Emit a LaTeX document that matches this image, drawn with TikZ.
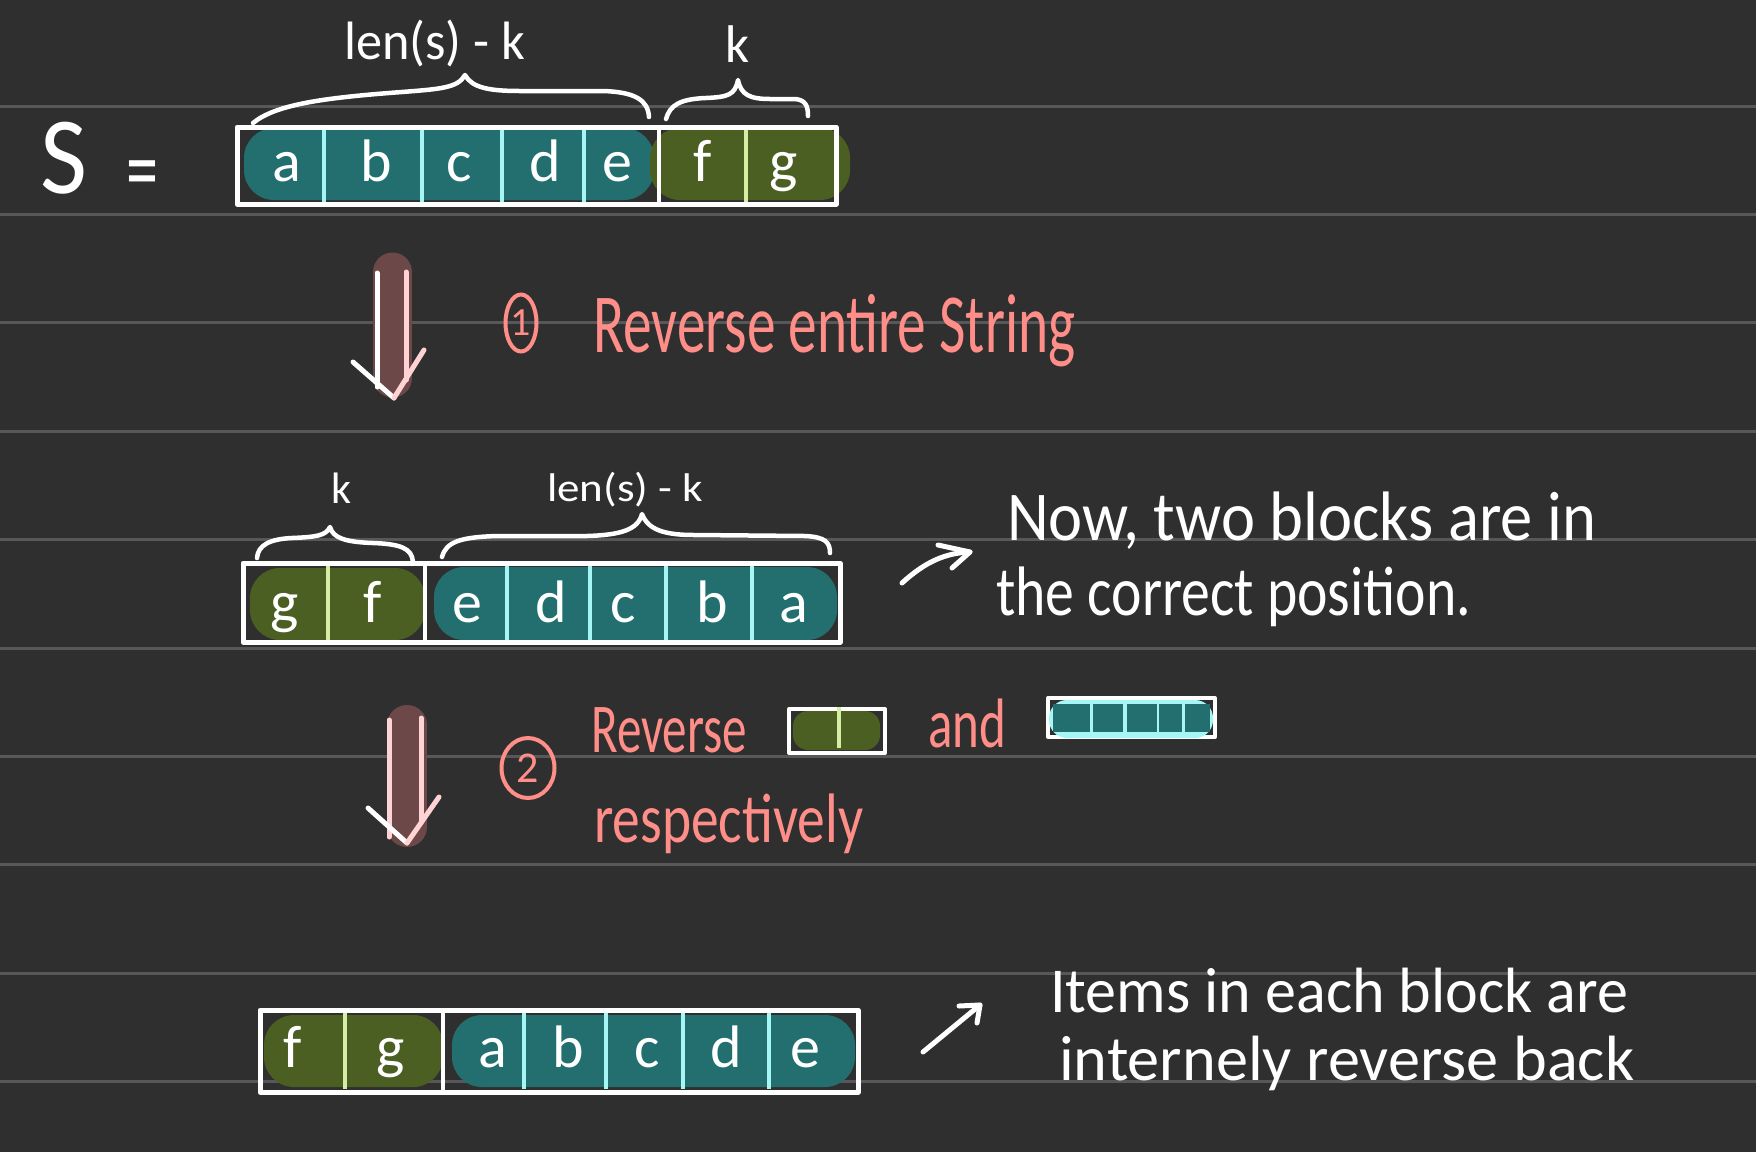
\documentclass[tikz,border=0pt]{standalone}
\usepackage{fontspec}
\usepackage{graphicx}
\setmainfont{Carlito}
\usetikzlibrary{shapes.geometric}
\definecolor{bg}{HTML}{2F2F2F}
\definecolor{ruleline}{HTML}{58585A}
\definecolor{tealfill}{HTML}{236F6F}
\definecolor{cyanline}{HTML}{A6F6F6}
\definecolor{greenfill}{HTML}{4C5F23}
\definecolor{greenline}{HTML}{D6EDA6}
\definecolor{salmon}{HTML}{FF8E89}
\definecolor{pillcol}{HTML}{6C4848}
\definecolor{pinkline}{HTML}{FFD3D3}
\newcommand{\fitw}[2]{\resizebox{#1pt}{\height}{#2}}
\tikzset{
  frame/.style={draw=white, line width=5pt, line join=round},
  cyandiv/.style={draw=cyanline, line width=4pt},
  greendiv/.style={draw=greenline, line width=4pt},
  whitediv/.style={draw=white, line width=4.5pt},
  tblob/.style={fill=tealfill, rounded corners=30pt},
  gblob/.style={fill=greenfill, rounded corners=30pt},
  ltr/.style={text=white, font=\fontsize{60}{60}\selectfont, inner sep=0pt, anchor=base},
  brace/.style={draw=white, line width=4.5pt, line cap=round, line join=round},
  pen/.style={draw=white, line width=5pt, line cap=round, line join=round},
  note/.style={text=white, inner sep=0pt, anchor=base west},
  pinknote/.style={text=salmon, inner sep=0pt, anchor=base west},
  pillbar/.style={draw=pillcol, line width=39pt, line cap=round},
}
\begin{document}
\begin{tikzpicture}[x=1pt,y=-1pt]
\fill[bg] (0,0) rectangle (1756,1152);
\useasboundingbox (0,0) rectangle (1756,1152);
% ruled lines
\foreach \k in {0,...,9} {
  \draw[ruleline, line width=3pt] (0,106+108.4*\k) -- (1756,106+108.4*\k);
}

% ===== Row 1 =====
\node[note, font=\fontsize{110}{110}\selectfont] (S) at (40,193) {\fitw{47}{S}};
\node[text=white, inner sep=0pt, font=\fontsize{95}{95}\selectfont] (eq) at (142,181) {\fitw{32}{=}};
\path[tblob] (244,128) rectangle (654,200);
\path[gblob] (650,128) rectangle (850,200);
\draw[cyandiv] (324,129) -- (324,203) (422,129) -- (422,203) (502,129) -- (502,203) (584,129) -- (584,203);
\draw[greendiv] (746,129) -- (746,203);
\draw[whitediv] (659,128) -- (659,203);
\draw[frame] (237,127) rectangle (836,204);
\foreach \x/\c in {287/a,376/b,459/c,545/d,617/e,703/f,784/g} {
  \node[ltr] (r1\c) at (\x,181) {\c};
}
\draw[brace] (253,123) .. controls (275,105) and (320,98) .. (402,92)
  .. controls (440,89) and (458,88) .. (465,75)
  .. controls (472,88) and (490,91) .. (520,91) -- (603,91)
  .. controls (635,92) and (648,100) .. (649,117);
\draw[brace] (666,119) .. controls (670,105) and (680,99) .. (706,98)
  .. controls (728,97) and (735,95) .. (738,80)
  .. controls (741,95) and (750,99) .. (770,99) -- (795,99)
  .. controls (805,100) and (808,105) .. (808,116);
\node[note, font=\fontsize{54}{54}\selectfont] (len1) at (344,59) {\fitw{181}{len(s) - k}};
\node[text=white, inner sep=0pt, anchor=base, font=\fontsize{53}{53}\selectfont] (k1) at (738,62) {k};

% ===== Arrow 1 =====
\coordinate (a1top) at (392.5,272);
\coordinate (a1bot) at (392.5,378);
\draw[pillbar] (a1top) -- (a1bot);
\coordinate (a1l1) at (377,273); \coordinate (a1l2) at (377,387);
\coordinate (a1r1) at (406,272); \coordinate (a1r2) at (406,380);
\coordinate (a1hl) at (353,362); \coordinate (a1tip) at (394,398); \coordinate (a1hr) at (424,350);
\draw[pen] (a1l1) -- (a1l2);
\draw[pen, draw=pinkline] (a1r1) -- (a1r2);
\draw[pen] (a1hl) -- (a1tip);
\draw[pen, draw=pinkline] (a1tip) -- (a1hr);
\node[ellipse, draw=salmon, line width=4pt, minimum width=31pt, minimum height=57pt, inner sep=0pt, text=salmon, font=\fontsize{40}{40}\selectfont] (c1) at (521,323) {1};
\node[pinknote, font=\fontsize{84}{84}\selectfont] (step1) at (593,352) {\fitw{482}{Reverse entire String}};

% ===== Row 2 =====
\path[gblob] (250,568) rectangle (425,640);
\path[tblob] (434,567) rectangle (837,640);
\draw[greendiv] (328,565) -- (328,641);
\draw[cyandiv] (507,565) -- (507,641) (590,565) -- (590,641) (666,565) -- (666,641) (752,565) -- (752,641);
\draw[whitediv] (425,564) -- (425,641);
\draw[frame] (243,563) rectangle (840,642);
\foreach \x/\c in {285/g,373/f,467/e,551/d,623/c,712/b,794/a} {
  \node[ltr] (r2\c) at (\x,622) {\c};
}
\draw[brace] (257,558) .. controls (258,545) and (270,539) .. (292,538)
  .. controls (315,537) and (326,536) .. (330,527)
  .. controls (333,538) and (345,542) .. (373,543)
  .. controls (400,544) and (412,548) .. (413,562);
\draw[brace] (442,557) .. controls (446,542) and (460,537) .. (498,536) -- (587,536)
  .. controls (620,535) and (638,530) .. (642,514)
  .. controls (648,530) and (665,535) .. (694,535) -- (805,536)
  .. controls (825,537) and (830,542) .. (830,553);
\node[text=white, inner sep=0pt, anchor=base, font=\fontsize{44}{44}\selectfont] (k2) at (341,503) {k};
\node[note, font=\fontsize{40}{40}\selectfont] (len2) at (547,501) {\fitw{156}{len(s) - k}};
\coordinate (n1s) at (902,583); \coordinate (n1e) at (970,552);
\coordinate (n1h1) at (938,545); \coordinate (n1h2) at (952,568);
\draw[pen] (n1s) .. controls (925,562) and (945,553) .. (n1e);
\draw[pen] (n1h1) -- (n1e) -- (n1h2);
\node[note, font=\fontsize{70}{70}\selectfont] (now1) at (1007,540) {\fitw{589}{Now, two blocks are in}};
\node[note, font=\fontsize{70}{70}\selectfont] (now2) at (996,615) {\fitw{475}{the correct position.}};

% ===== Arrow 2 =====
\coordinate (a2top) at (407,725);
\coordinate (a2bot) at (407,827);
\draw[pillbar, line width=40pt] (a2top) -- (a2bot);
\coordinate (a2l1) at (389,720); \coordinate (a2l2) at (389,837);
\coordinate (a2r1) at (421,718); \coordinate (a2r2) at (421,822);
\coordinate (a2hl) at (368,808); \coordinate (a2tip) at (407,843); \coordinate (a2hr) at (439,797);
\draw[pen, draw=pinkline] (a2l1) -- (a2l2);
\draw[pen, draw=pinkline] (a2r1) -- (a2r2);
\draw[pen] (a2hl) -- (a2tip);
\draw[pen, draw=pinkline] (a2tip) -- (a2hr);
\node[ellipse, draw=salmon, line width=4pt, minimum width=53pt, minimum height=60pt, inner sep=0pt, text=salmon, font=\fontsize{44}{44}\selectfont] (c2) at (528,768) {2};
\node[pinknote, font=\fontsize{70}{70}\selectfont] (rev2) at (591,752) {\fitw{156}{Reverse}};
\node[pinknote, font=\fontsize{70}{70}\selectfont] (and2) at (928,747) {\fitw{78}{and}};
\node[pinknote, font=\fontsize{70}{70}\selectfont] (resp2) at (594,842) {\fitw{269}{respectively}};
% small green block
\draw[frame, line width=4pt] (789,709) rectangle (885,753);
\path[fill=greenfill, rounded corners=15pt] (793,711) rectangle (880,750);
\draw[greendiv] (839,707) -- (839,748);
% small teal block
\draw[frame, line width=4pt] (1048,698) rectangle (1215,737);
\path[fill=cyanline, rounded corners=18pt] (1049,700) rectangle (1213,738);
\foreach \a/\b in {1053/1090,1093/1123,1127/1157,1159/1182,1185/1210} {
  \fill[tealfill] (\a,704) rectangle (\b,732);
}

% ===== Row 4 =====
\path[gblob] (264,1015) rectangle (443,1087);
\path[tblob] (452,1015) rectangle (855,1087);
\draw[greendiv] (345,1012) -- (345,1089);
\draw[cyandiv] (524,1012) -- (524,1089) (606,1012) -- (606,1089) (683,1012) -- (683,1089) (769,1012) -- (769,1089);
\draw[whitediv] (443,1011) -- (443,1090);
\draw[frame] (260,1010) rectangle (858,1092);
\foreach \x/\c in {293/f,391/g,493/a,568/b,647/c,726/d,805/e} {
  \node[ltr] (r4\c) at (\x,1067) {\c};
}
\coordinate (n2s) at (923,1052); \coordinate (n2e) at (980,1005);
\coordinate (n2h1) at (959,1006); \coordinate (n2h2) at (977,1023);
\draw[pen] (n2s) -- (n2e);
\draw[pen] (n2h1) -- (n2e) -- (n2h2);
\node[note, font=\fontsize{64}{64}\selectfont] (it1) at (1050,1012) {\fitw{578}{Items in each block are}};
\node[note, font=\fontsize{64}{64}\selectfont] (it2) at (1059,1080) {\fitw{575}{internely reverse back}};
\end{tikzpicture}
\end{document}
